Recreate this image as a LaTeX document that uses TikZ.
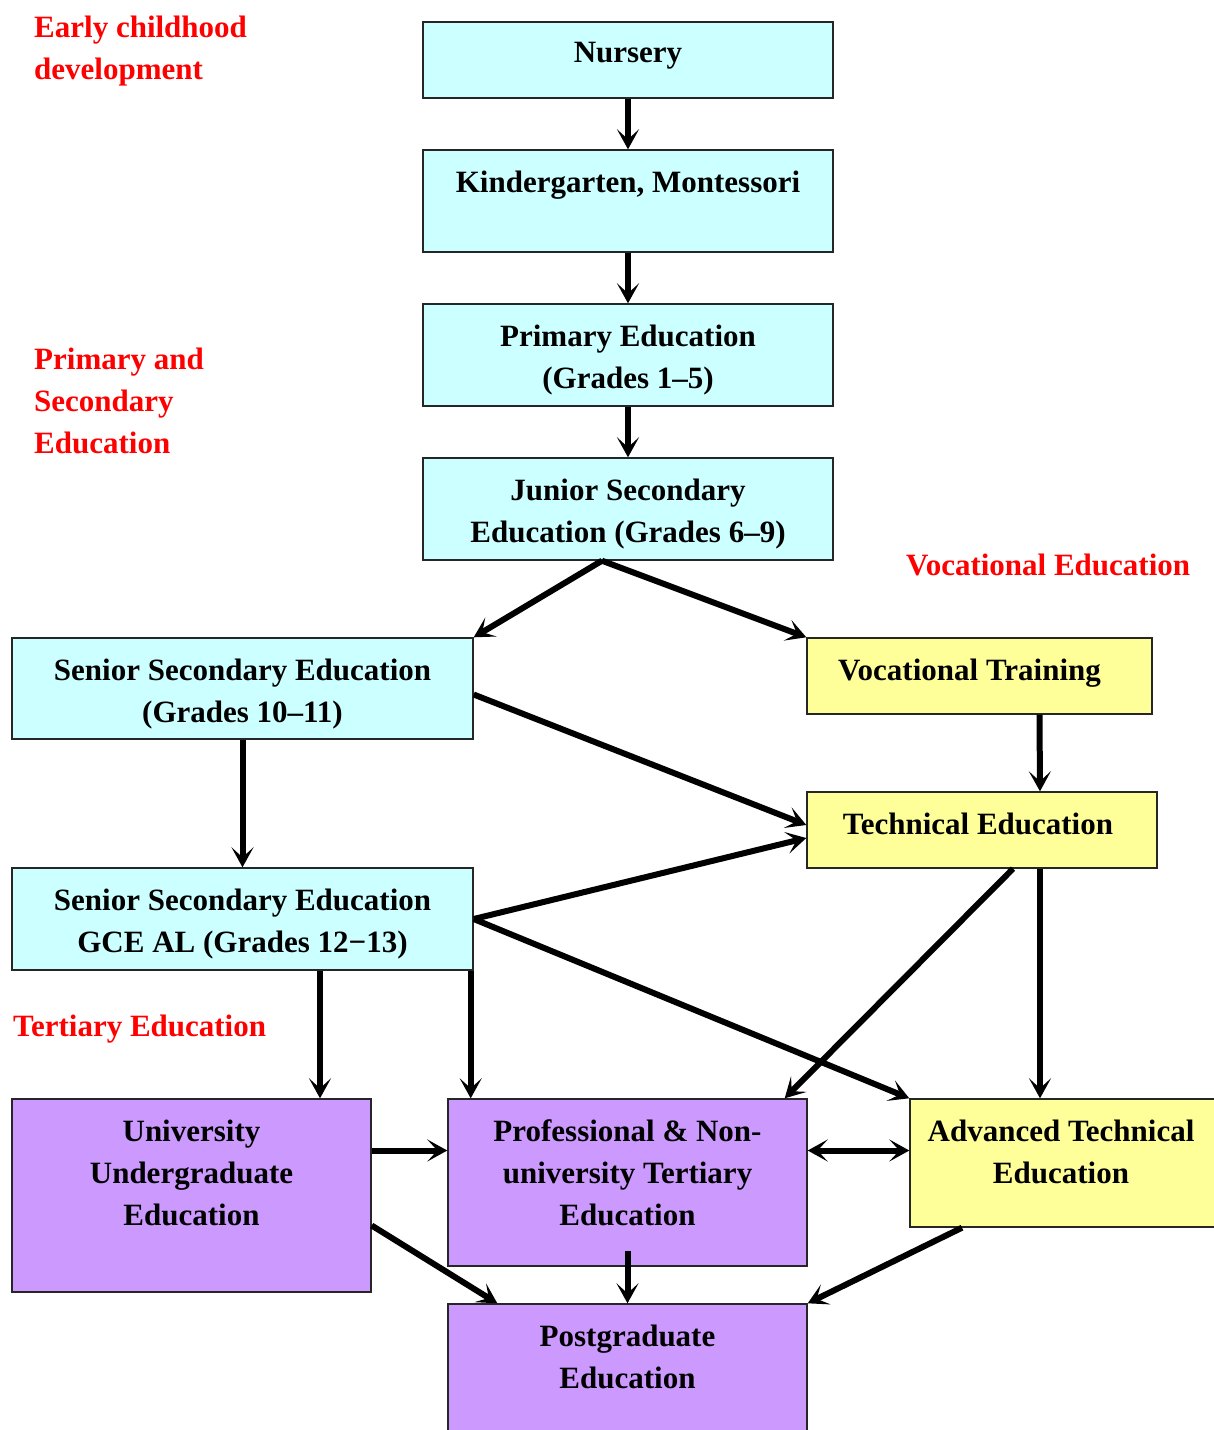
\documentclass[tikz,border=0pt]{standalone}
\usepackage{fontspec}
\setmainfont{Liberation Serif}
\usetikzlibrary{arrows.meta}

\definecolor{stagecyan}{HTML}{CCFFFF}
\definecolor{stageyellow}{HTML}{FFFF99}
\definecolor{stagepurple}{HTML}{CC99FF}

\begin{document}
\begin{tikzpicture}[x=1pt,y=-1pt,>={Stealth[length=20pt,width=22pt,inset=10pt]},
  font=\fontsize{31}{42}\selectfont\bfseries,
  stage/.style={draw=black!85, line width=1.4pt, inner sep=0pt},
  intext/.style={anchor=north, yshift=-21pt, inner sep=0pt, align=center, text=black},
  heading/.style={text=red, anchor=north west, inner sep=0pt, align=left},
  flow/.style={->, line width=6pt}]
  \useasboundingbox (0,0) rectangle (1214,1430);

  % Headings
  \node[heading] (hearly) at (34,16) {Early childhood\\development};
  \node[heading] (hprim) at (34,348) {Primary and\\Secondary\\Education};
  \node[heading] (hvoc) at (906,554) {Vocational Education};
  \node[heading] (hter) at (13,1015) {Tertiary Education};

  % --- General education (cyan) ---
  \node[stage, fill=stagecyan, minimum width=410, minimum height=76,
    label={[intext]north:Nursery}] (nursery) at (628,60) {};
  \node[stage, fill=stagecyan, minimum width=410, minimum height=102,
    label={[intext]north:Kindergarten, Montessori}] (kinder) at (628,201) {};
  \node[stage, fill=stagecyan, minimum width=410, minimum height=102,
    label={[intext]north:Primary Education\\(Grades 1–5)}] (primary) at (628,355) {};
  \node[stage, fill=stagecyan, minimum width=410, minimum height=102,
    label={[intext]north:Junior Secondary\\Education (Grades 6–9)}] (junior) at (628,509) {};
  \node[stage, fill=stagecyan, minimum width=461, minimum height=101,
    label={[intext]north:Senior Secondary Education\\(Grades 10–11)}] (senior) at (242.5,688.5) {};
  \node[stage, fill=stagecyan, minimum width=461, minimum height=102,
    label={[intext]north:Senior Secondary Education\\GCE AL (Grades 12−13)}] (gce) at (242.5,919) {};

  % --- Vocational (yellow) ---
  \node[stage, fill=stageyellow, minimum width=345, minimum height=76,
    label={[intext,xshift=-10pt]north:Vocational Training}] (voctrain) at (979.5,676) {};
  \node[stage, fill=stageyellow, minimum width=350, minimum height=76,
    label={[intext,xshift=-4pt]north:Technical Education}] (technical) at (982,830) {};
  \node[stage, fill=stageyellow, minimum width=306, minimum height=128,
    label={[intext,xshift=-2pt]north:Advanced Technical\\Education}] (advtech) at (1063,1163) {};

  % --- Tertiary (purple) ---
  \node[stage, fill=stagepurple, minimum width=359, minimum height=193,
    label={[intext]north:University\\Undergraduate\\Education}] (univ) at (191.5,1195.5) {};
  \node[stage, fill=stagepurple, minimum width=359, minimum height=167,
    label={[intext]north:Professional \& Non-\\university Tertiary\\Education}] (prof) at (627.5,1182.5) {};
  \node[stage, fill=stagepurple, minimum width=359, minimum height=136,
    label={[intext]north:Postgraduate\\Education}] (postgrad) at (627.5,1372) {};

  \coordinate (profin) at ([yshift=32pt]prof.west);
  \coordinate (profout) at ([yshift=32pt]prof.east);

  % Connectors
  \draw[flow] (nursery) -- (kinder);
  \draw[flow] (kinder) -- (primary);
  \draw[flow] (primary) -- (junior);
  \draw[flow] ([xshift=-26pt]junior.south) -- (senior.north east);
  \draw[flow] ([xshift=-26pt]junior.south) -- (voctrain.north west);
  \draw[flow] ([yshift=-6pt]senior.east) -- ([yshift=5pt]technical.west);
  \draw[flow] ([xshift=60pt]voctrain.south) -- ([xshift=58pt]technical.north);
  \draw[flow] (senior) -- (gce);
  \draw[flow] (gce.east) -- ([yshift=-8pt]technical.west);
  \draw[flow] (gce.east) -- (advtech.north west);
  \draw[flow] ([xshift=31pt]technical.south) -- ([xshift=-23pt]prof.north east);
  \draw[flow] ([xshift=58pt]technical.south) -- ([xshift=58pt]technical.south |- advtech.north);
  \draw[flow] ([xshift=77.5pt]gce.south) -- ([xshift=77.5pt]gce.south |- univ.north);
  \draw[flow] ([xshift=-3pt]gce.south east) -- ([xshift=-3pt]gce.south east |- prof.north);
  \draw[flow] (univ.east |- profin) -- (profin);
  \draw[<->, line width=6pt] (profout) -- (profout -| advtech.west);
  \draw[flow] ([yshift=-30pt]univ.east) -- ([xshift=50pt]postgrad.north west);
  \draw[flow] ([yshift=16pt]prof.south) -- (postgrad.north);
  \draw[flow] ([xshift=-101pt]advtech.south) -- (postgrad.north east);
\end{tikzpicture}
\end{document}
